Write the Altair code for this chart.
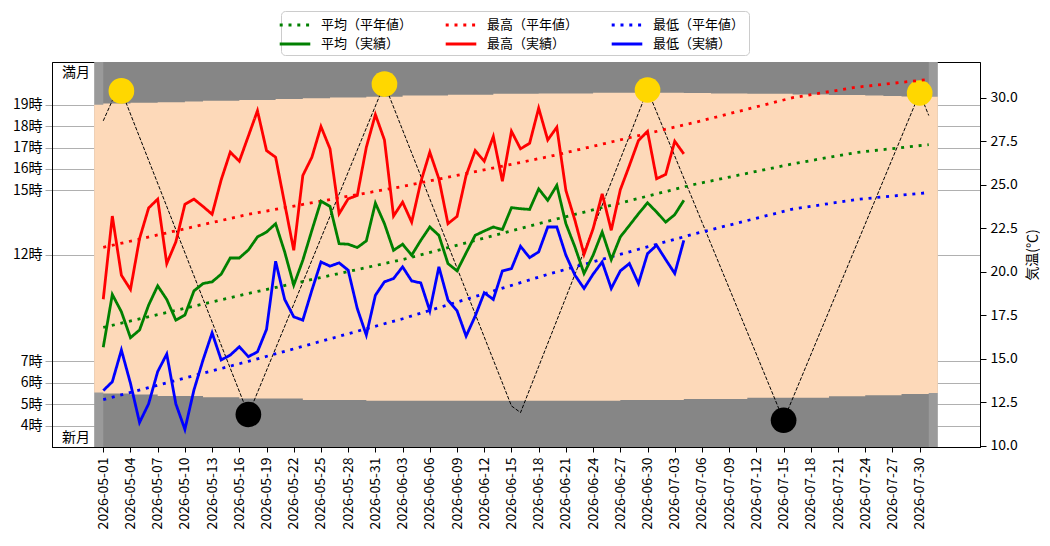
import altair as alt
import pandas as pd

# ---------------- axes / ranges ----------------
HOURS_DOMAIN = [3, 21]
HOUR_TICKS = [4, 5, 6, 7, 12, 15, 16, 17, 18, 19]
TEMP_DOMAIN = [9.93, 32.05]
TEMP_TICKS = [10.0, 12.5, 15.0, 17.5, 20.0, 22.5, 25.0, 27.5, 30.0]
X_FIRST_TICK, X_LAST_TICK, TICK_STEP = "2026-05-01", "2026-07-30", "3D"

# ---------------- night / day band ----------------
NIGHT_OUTER = ["2026-04-30", "2026-08-01"]
NIGHT_INNER = ["2026-05-01", "2026-07-31"]

sun_dates = ["2026-04-30", "2026-05-01", "2026-05-04", "2026-05-07", "2026-05-10", "2026-05-12",
             "2026-05-16", "2026-05-20", "2026-05-23", "2026-05-26", "2026-05-30", "2026-06-03",
             "2026-06-08", "2026-06-13", "2026-06-18", "2026-06-24", "2026-06-27", "2026-07-04",
             "2026-07-07", "2026-07-11", "2026-07-16", "2026-07-20", "2026-07-24", "2026-07-26",
             "2026-07-28", "2026-07-31", "2026-08-01"]
sunset = [19.00, 19.06, 19.09, 19.12, 19.15, 19.19, 19.22, 19.27, 19.30, 19.34, 19.38, 19.43,
          19.47, 19.51, 19.53, 19.56, 19.56, 19.55, 19.53, 19.52, 19.48, 19.46, 19.43, 19.41,
          19.39, 19.37, 19.37]
sunrise = [5.55, 5.50, 5.45, 5.39, 5.39, 5.33, 5.27, 5.27, 5.20, 5.20, 5.16, 5.16,
           5.16, 5.16, 5.16, 5.16, 5.20, 5.24, 5.24, 5.30, 5.30, 5.37, 5.42, 5.42,
           5.48, 5.52, 5.52]

# ---------------- moon ----------------
moon_dates = ["2026-05-01", "2026-05-02", "2026-05-03", "2026-05-17", "2026-06-01", "2026-06-15",
              "2026-06-16", "2026-06-30", "2026-07-15", "2026-07-30", "2026-07-31"]
moon_phase = [18.25, 19.2, 19.65, 4.52, 19.97, 4.92, 4.61, 19.69, 4.25, 19.55, 18.5]
full_moon_dates = ["2026-05-03", "2026-06-01", "2026-06-30", "2026-07-30"]
new_moon_dates = ["2026-05-17", "2026-07-15"]

# ---------------- temperatures ----------------
# legend order (filled column by column): avg, max, min  x  normal / actual
SERIES = ["平均（平年値）", "平均（実績）", "最高（平年値）", "最高（実績）", "最低（平年値）", "最低（実績）"]
COLORS = ["#008000", "#008000", "#ff0000", "#ff0000", "#0000ff", "#0000ff"]
DOT = [3, 5.8]
SOLID = [1, 0]
DASHES = [DOT, SOLID, DOT, SOLID, DOT, SOLID]

normal_dates = ["2026-05-01", "2026-05-17", "2026-06-03", "2026-06-19", "2026-07-05",
                "2026-07-16", "2026-07-23", "2026-07-31"]
normal_avg = [16.8, 18.75, 20.7, 22.9, 25.0, 26.2, 26.85, 27.3]
normal_max = [21.4, 23.3, 24.9, 26.6, 28.55, 30.0, 30.6, 31.05]
normal_min = [12.65, 14.85, 17.3, 19.85, 22.15, 23.6, 24.15, 24.55]

actual_start = "2026-05-01"
actual_max = [18.42, 23.20, 19.80, 18.98, 21.90, 23.66, 24.17, 20.47, 21.71, 23.87,
              24.17, 23.75, 23.30, 25.28, 26.87, 26.35, 27.8, 29.25, 26.96, 26.58,
              23.91, 21.23, 25.53, 26.58, 28.34, 27.06, 23.33, 24.19, 24.38, 27.15,
              29.03, 27.57, 23.2, 24.0, 22.85, 25.15, 26.87, 25.34, 22.76, 23.18,
              25.53, 26.96, 26.35, 27.77, 25.2, 28.07, 27.06, 27.38, 29.4, 27.57,
              28.3, 24.67, 22.95, 21.0, 22.47, 24.48, 22.38, 24.71, 26.1, 27.54,
              28.07, 25.34, 25.59, 27.5, 26.77]
actual_avg = [15.66, 18.69, 17.70, 16.21, 16.65, 18.08, 19.19, 18.41, 17.22, 17.51,
              18.9, 19.32, 19.42, 19.86, 20.79, 20.79, 21.25, 22.0, 22.28, 22.76,
              21.14, 19.23, 20.66, 22.38, 24.06, 23.75, 21.61, 21.58, 21.39, 21.77,
              23.94, 22.76, 21.23, 21.58, 20.95, 21.8, 22.57, 22.09, 20.47, 20.05,
              21.08, 22.09, 22.34, 22.57, 22.42, 23.68, 23.62, 23.58, 24.76, 24.1,
              24.96, 22.76, 21.42, 19.9, 20.95, 22.28, 20.7, 22.0, 22.66, 23.33,
              23.96, 23.43, 22.85, 23.28, 24.1]
actual_min = [13.17, 13.68, 15.5, 13.59, 11.34, 12.41, 14.26, 15.27, 12.41, 10.94,
              13.21, 14.93, 16.49, 14.93, 15.21, 15.69, 15.12, 15.4, 16.69, 20.6,
              18.41, 17.41, 17.22, 18.94, 20.56, 20.32, 20.51, 20.09, 17.89, 16.36,
              18.65, 19.42, 19.61, 20.28, 19.47, 19.36, 17.76, 20.28, 18.37, 17.76,
              16.3, 17.45, 18.79, 18.41, 20.05, 20.18, 21.46, 20.81, 21.14, 22.57,
              22.57, 20.95, 19.8, 19.04, 19.86, 20.56, 19.04, 20.05, 20.47, 19.32,
              21.04, 21.52, 20.7, 19.9, 21.8]

FONT = "Noto Sans CJK JP"

# ---------------- frames ----------------
night_outer_df = pd.DataFrame({"start": pd.to_datetime([NIGHT_OUTER[0]]),
                               "end": pd.to_datetime([NIGHT_OUTER[1]]),
                               "lo": [HOURS_DOMAIN[0]], "hi": [HOURS_DOMAIN[1]]})
night_inner_df = pd.DataFrame({"start": pd.to_datetime([NIGHT_INNER[0]]),
                               "end": pd.to_datetime([NIGHT_INNER[1]]),
                               "lo": [HOURS_DOMAIN[0]], "hi": [HOURS_DOMAIN[1]]})
sun_df = pd.DataFrame({"date": pd.to_datetime(sun_dates), "sunset": sunset, "sunrise": sunrise})
moon_df = pd.DataFrame({"date": pd.to_datetime(moon_dates), "phase": moon_phase})
full_df = moon_df[moon_df["date"].isin(pd.to_datetime(full_moon_dates))]
new_df = moon_df[moon_df["date"].isin(pd.to_datetime(new_moon_dates))]

actual_dates = pd.date_range(actual_start, periods=len(actual_max), freq="D")
frames = []
for name, vals in [("平均（平年値）", normal_avg), ("最高（平年値）", normal_max), ("最低（平年値）", normal_min)]:
    frames.append(pd.DataFrame({"date": pd.to_datetime(normal_dates), "temp": vals, "series": name}))
for name, vals in [("平均（実績）", actual_avg), ("最高（実績）", actual_max), ("最低（実績）", actual_min)]:
    frames.append(pd.DataFrame({"date": actual_dates, "temp": vals, "series": name}))
temp_df = pd.concat(frames, ignore_index=True)

tick_dates = pd.date_range(X_FIRST_TICK, X_LAST_TICK, freq=TICK_STEP)
tick_values = [alt.DateTime(year=d.year, month=d.month, date=d.day) for d in tick_dates]

# ---------------- scales / axes ----------------
x_scale = alt.Scale(domain=[alt.DateTime(year=2026, month=4, date=25, hours=8, minutes=24),
                            alt.DateTime(year=2026, month=8, date=5, hours=15, minutes=36)])
x_axis = alt.Axis(values=tick_values, format="%Y-%m-%d", labelAngle=270, labelFontSize=14,
                  tickSize=5, labelPadding=5, grid=False, domainColor="black",
                  tickColor="black", labelColor="black", title=None)
hours_scale = alt.Scale(domain=HOURS_DOMAIN, nice=False, zero=False)
hours_axis = alt.Axis(orient="left", values=HOUR_TICKS, labelExpr="datum.value + '時'", title=None,
                      grid=True, gridColor="#b0b0b0", gridWidth=1, tickSize=7, tickColor="#a8a8a8",
                      labelPadding=3, labelFontSize=14, domainColor="black", labelColor="black")
temp_axis = alt.Axis(orient="right", values=TEMP_TICKS, format=".1f", title="気温(℃)", grid=False,
                     titleAngle=270, titleBaseline="top", titleFontWeight="normal", titleFontSize=14,
                     titleColor="black", titlePadding=8, labelFontSize=14, tickSize=6,
                     labelPadding=4, domainColor="black", tickColor="black", labelColor="black")


def xe(field):
    return alt.X(field, type="temporal", scale=x_scale, axis=x_axis, title=None)


def yh(field):
    return alt.Y(field, type="quantitative", scale=hours_scale, axis=hours_axis, title=None)


night_outer = alt.Chart(night_outer_df).mark_rect(color="#9a9a9a").encode(
    x=xe("start"), x2=alt.X2("end"), y=yh("lo"), y2=alt.Y2("hi"))
night_inner = alt.Chart(night_inner_df).mark_rect(color="#868686").encode(
    x=xe("start"), x2=alt.X2("end"), y=yh("lo"), y2=alt.Y2("hi"))
day = alt.Chart(sun_df).mark_area(interpolate="step-after", color="#fdd9b9", opacity=1).encode(
    x=xe("date"), y=yh("sunset"), y2=alt.Y2("sunrise"))
moon_line = alt.Chart(moon_df).mark_line(color="black", strokeWidth=1, strokeDash=[3.7, 1.6]).encode(
    x=xe("date"), y=yh("phase"))
full_pts = alt.Chart(full_df).mark_circle(size=660, color="#ffd700", opacity=1).encode(
    x=xe("date"), y=yh("phase"))
new_pts = alt.Chart(new_df).mark_circle(size=660, color="#000000", opacity=1).encode(
    x=xe("date"), y=yh("phase"))
full_lbl = alt.Chart(alt.Data(values=[{"t": "満月"}])).mark_text(
    align="left", baseline="middle", fontSize=14, color="black", font=FONT).encode(
    text="t:N", x=alt.value(10), y=alt.value(11))
new_lbl = alt.Chart(alt.Data(values=[{"t": "新月"}])).mark_text(
    align="left", baseline="middle", fontSize=14, color="black", font=FONT).encode(
    text="t:N", x=alt.value(10), y=alt.value(376))

hours_layer = alt.layer(night_outer, night_inner, day, moon_line, full_pts, new_pts, full_lbl, new_lbl)

leg = alt.Legend(title=None, orient="none", legendX=229, legendY=-51, columns=3, gridAlign="all",
                 symbolType="M-1.8,0H1.8", symbolSize=289, symbolStrokeWidth=2.8,
                 labelFontSize=13, labelOffset=16, columnPadding=27, rowPadding=2, padding=4,
                 strokeColor="#cccccc", cornerRadius=4, fillColor="#ffffff", labelColor="black",
                 labelFont=FONT)

temp_lines = alt.Chart(temp_df).mark_line(strokeWidth=2.8, strokeCap="butt").encode(
    x=xe("date"),
    y=alt.Y("temp:Q", scale=alt.Scale(domain=TEMP_DOMAIN, nice=False, zero=False), axis=temp_axis),
    color=alt.Color("series:N", scale=alt.Scale(domain=SERIES, range=COLORS), legend=leg),
    strokeDash=alt.StrokeDash("series:N", scale=alt.Scale(domain=SERIES, range=DASHES), legend=leg),
)

chart = alt.layer(hours_layer, temp_lines).resolve_scale(y="independent").properties(
    width=928, height=385, padding={"left": 4, "top": 2, "right": 0, "bottom": 0}
).configure(font=FONT, background="white").configure_view(stroke="black", strokeWidth=1)

chart.save("out.html", embed_options={"renderer": "svg", "actions": False})
